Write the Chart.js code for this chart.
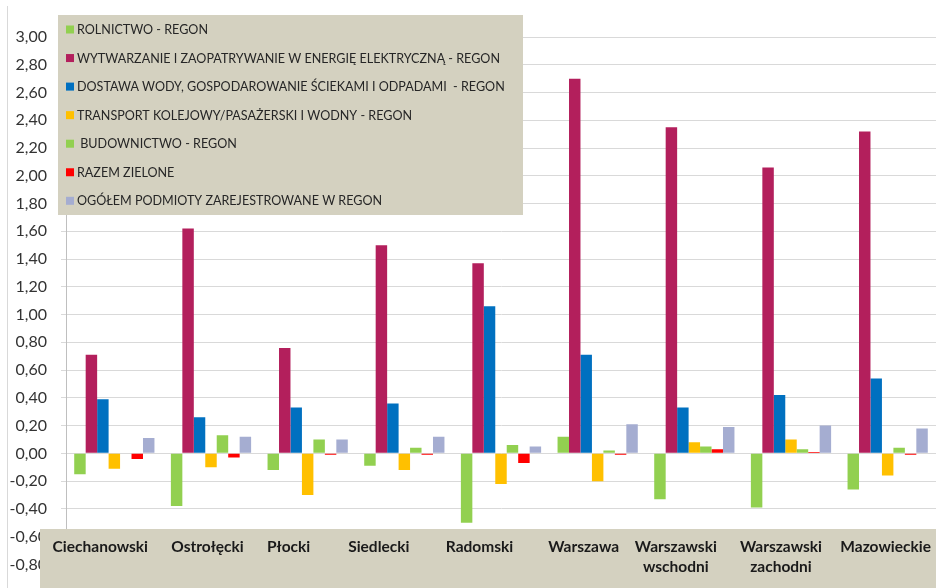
<!DOCTYPE html>
<html>
<head>
<meta charset="utf-8">
<script src="https://cdn.jsdelivr.net/npm/chart.js@4/dist/chart.umd.min.js"></script>
<style>
html,body{margin:0;padding:0;background:#fff;}
#wrap{width:936px;height:588px;position:relative;}
</style>
</head>
<body>
<div id="wrap"><canvas id="c" width="936" height="588"></canvas></div>
<script>
const categories = ['Ciechanowski','Ostrołęcki','Płocki','Siedlecki','Radomski','Warszawa',['Warszawski','wschodni'],['Warszawski','zachodni'],'Mazowieckie'];

const seriesNames = [
  'ROLNICTWO - REGON',
  'WYTWARZANIE I ZAOPATRYWANIE W ENERGIĘ ELEKTRYCZNĄ - REGON',
  'DOSTAWA WODY, GOSPODAROWANIE ŚCIEKAMI I ODPADAMI  - REGON',
  'TRANSPORT KOLEJOWY/PASAŻERSKI I WODNY - REGON',
  ' BUDOWNICTWO - REGON',
  'RAZEM ZIELONE',
  'OGÓŁEM PODMIOTY ZAREJESTROWANE W REGON'
];

const rolnictwo    = [-0.15, -0.38, -0.12, -0.09, -0.50,  0.12, -0.33, -0.39, -0.26];
const wytwarzanie  = [ 0.71,  1.62,  0.76,  1.50,  1.37,  2.70,  2.35,  2.06,  2.32];
const dostawa      = [ 0.39,  0.26,  0.33,  0.36,  1.06,  0.71,  0.33,  0.42,  0.54];
const transport    = [-0.11, -0.10, -0.30, -0.12, -0.22, -0.20,  0.08,  0.10, -0.16];
const budownictwo  = [ 0.00,  0.13,  0.10,  0.04,  0.06,  0.02,  0.05,  0.03,  0.04];
const razemZielone = [-0.04, -0.03, -0.01, -0.01, -0.07, -0.01,  0.03,  0.01, -0.01];
const ogolem       = [ 0.11,  0.12,  0.10,  0.12,  0.05,  0.21,  0.19,  0.20,  0.18];

const yTickValues = [3.0,2.8,2.6,2.4,2.2,2.0,1.8,1.6,1.4,1.2,1.0,0.8,0.6,0.4,0.2,0,-0.2,-0.4,-0.6,-0.8];

const colors = ['#92D050','#B31F5C','#0070C0','#FFC000','#92D050','#FF0000','#A5ADD1'];
const seriesData = [rolnictwo, wytwarzanie, dostawa, transport, budownictwo, razemZielone, ogolem];

const BEIGE = '#D4D1C0';
// horizontal shift of each category caption relative to its group centre (the captions sit in a hand-placed box)
const captionShift = [-14, -3.5, -19, -25.5, -21.5, -14, -18.5, -10, -2];

const overlayPlugin = {
  id: 'overlay',
  afterDraw(chart) {
    const ctx = chart.ctx;
    const xs = chart.scales.x;
    ctx.save();
    // left outer border line
    ctx.strokeStyle = '#D9D9D9';
    ctx.lineWidth = 1;
    ctx.beginPath();
    ctx.moveTo(7.5, 6);
    ctx.lineTo(7.5, 588);
    ctx.stroke();

    // category label box
    ctx.fillStyle = BEIGE;
    ctx.fillRect(40, 529, 896, 59);
    ctx.fillStyle = '#1a1a1a';
    ctx.font = 'bold 15.5px Lato';
    ctx.textAlign = 'center';
    ctx.textBaseline = 'middle';
    chart.data.labels.forEach((lab, i) => {
      const x = xs.getPixelForValue(i) + captionShift[i];
      const lines = Array.isArray(lab) ? lab : [lab];
      lines.forEach((ln, j) => ctx.fillText(ln, x, 547 + j * 20));
    });

    // legend box
    ctx.fillStyle = BEIGE;
    ctx.fillRect(58, 15, 465, 200);
    ctx.font = '14px Lato';
    const longest = chart.data.datasets[2].label;
    const w = ctx.measureText(longest).width;
    const size = Math.min(15, 14 * 428 / w);
    ctx.font = size.toFixed(2) + 'px Lato';
    ctx.textAlign = 'left';
    ctx.textBaseline = 'middle';
    chart.data.datasets.forEach((ds, i) => {
      const y = 29.5 + i * 28.55;
      ctx.fillStyle = ds.backgroundColor;
      ctx.fillRect(66, y - 4, 8, 8);
      ctx.fillStyle = '#262626';
      ctx.fillText(ds.label, 77, y + 0.5);
    });
    ctx.restore();
  }
};

new Chart(document.getElementById('c'), {
  type: 'bar',
  data: {
    labels: categories,
    datasets: seriesNames.map((name, i) => ({
      label: name,
      data: seriesData[i],
      backgroundColor: colors[i],
      borderWidth: 0,
      categoryPercentage: 0.83,
      barPercentage: 1.0
    }))
  },
  options: {
    responsive: false,
    animation: false,
    layout: { padding: { top: 37, bottom: 22, left: 0, right: 0 } },
    plugins: { legend: { display: false }, tooltip: { enabled: false } },
    scales: {
      x: { display: false, offset: true, grid: { display: false } },
      y: {
        min: -0.8, max: 3.0,
        afterBuildTicks: s => { s.ticks = yTickValues.map(v => ({ value: v })); },
        afterFit: s => { s.width = 66; },
        ticks: {
          callback: v => (Math.abs(v) < 1e-9 ? 0 : v).toFixed(2).replace('.', ','),
          font: { family: 'Lato', size: 16 },
          color: '#333333',
          padding: 14
        },
        grid: { color: '#D9D9D9', tickLength: 5, drawTicks: true },
        border: { color: '#BFBFBF' }
      }
    }
  },
  plugins: [overlayPlugin]
});
</script>
</body>
</html>
